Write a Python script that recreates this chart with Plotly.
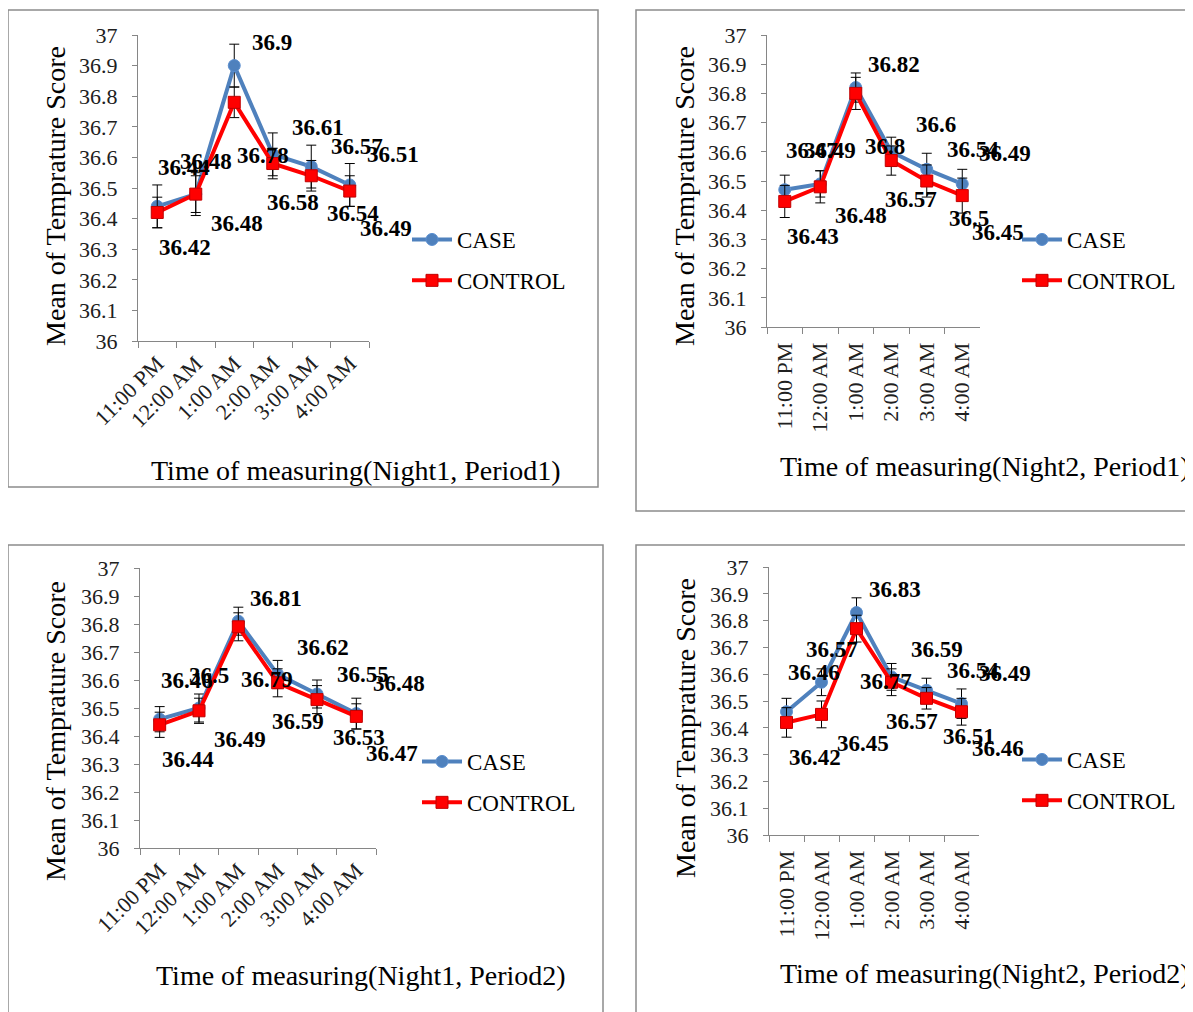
import plotly.graph_objects as go

# ---------------- data ----------------
times = ["11:00 PM", "12:00 AM", "1:00 AM", "2:00 AM", "3:00 AM", "4:00 AM"]
series_names = ["CASE", "CONTROL"]
x_titles = [
    "Time of measuring(Night1, Period1)",
    "Time of measuring(Night2, Period1)",
    "Time of measuring(Night1, Period2)",
    "Time of measuring(Night2, Period2)",
]
y_title = "Mean of Temprature Score"

case_n1p1 = [36.44, 36.48, 36.9, 36.61, 36.57, 36.51]
control_n1p1 = [36.42, 36.48, 36.78, 36.58, 36.54, 36.49]
case_err_n1p1 = [0.07, 0.07, 0.07, 0.07, 0.07, 0.07]
control_err_n1p1 = [0.05, 0.06, 0.05, 0.05, 0.05, 0.05]

case_n2p1 = [36.47, 36.49, 36.82, 36.6, 36.54, 36.49]
control_n2p1 = [36.43, 36.48, 36.8, 36.57, 36.5, 36.45]
case_err_n2p1 = [0.05, 0.045, 0.05, 0.05, 0.055, 0.05]
control_err_n2p1 = [0.055, 0.055, 0.055, 0.05, 0.055, 0.06]

case_n1p2 = [36.46, 36.5, 36.81, 36.62, 36.55, 36.48]
control_n1p2 = [36.44, 36.49, 36.79, 36.59, 36.53, 36.47]
case_err_n1p2 = [0.045, 0.05, 0.05, 0.05, 0.05, 0.055]
control_err_n1p2 = [0.045, 0.045, 0.05, 0.05, 0.05, 0.045]

case_n2p2 = [36.46, 36.57, 36.83, 36.59, 36.54, 36.49]
control_n2p2 = [36.42, 36.45, 36.77, 36.57, 36.51, 36.46]
case_err_n2p2 = [0.05, 0.05, 0.055, 0.05, 0.045, 0.055]
control_err_n2p2 = [0.055, 0.05, 0.05, 0.05, 0.04, 0.05]

# ---------------- layout constants (pixels, page coordinates) ----------------
W, H = 1193, 1012
PAGE_OFF = 8          # default body margin of the html page
FONT = "Liberation Serif"
BLUE = "#4F81BD"
RED = "#FF0000"
GRAY = "#868686"

# plot area: x0, x1, ytop, ybottom
areas = [(138, 369, 35, 341), (767, 980, 35, 327),
         (140, 376, 568, 848), (769, 979, 567, 835)]
# panel border boxes: x0, y0, x1, y1
boxes = [(8, 10, 598, 487), (636, 10, 1210, 511),
         (8, 545, 603, 1030), (636, 545, 1210, 1030)]
# y-title centre (x, y), x-title centre (x, y)
ytitle_pos = [(55, 196), (684, 196), (55, 731), (685, 728)]
xtitle_pos = [(356, 470), (985, 467), (361, 975), (985, 973)]
# legend top-left position (x, y) px
legend_pos = [(407, 218), (1017, 218), (417, 740), (1017, 738)]
tick_angles = [-45, -90, -45, -90]
x_standoff = [0, 6, 0, 6]
# data-label offsets in px (right, down)
case_off = [(27, -39), (10, -33), (38, -23), (45, -27), (46, -20), (43, -30)]
control_off = [(28, 35), (41, 29), (29, 53), (20, 39), (42, 38), (36, 37)]

panels = [
    (case_n1p1, control_n1p1, case_err_n1p1, control_err_n1p1),
    (case_n2p1, control_n2p1, case_err_n2p1, control_err_n2p1),
    (case_n1p2, control_n1p2, case_err_n1p2, control_err_n1p2),
    (case_n2p2, control_n2p2, case_err_n2p2, control_err_n2p2),
]


def fx(p):
    return (p - PAGE_OFF) / W


def fy(p):
    return 1 - (p - PAGE_OFF) / H


fig = go.Figure()
layout = dict(
    width=W, height=H,
    margin=dict(l=0, r=0, t=0, b=0, pad=0, autoexpand=False),
    paper_bgcolor="white", plot_bgcolor="white",
    font=dict(family=FONT, color="black", size=23),
    annotations=[], shapes=[],
)

for i, (case, control, case_err, control_err) in enumerate(panels):
    n = i + 1
    sx = "" if n == 1 else str(n)
    xa, ya = "x" + sx, "y" + sx
    leg = "legend" + sx
    x0, x1, yt, yb = areas[i]

    fig.add_trace(go.Scatter(
        x=times, y=case, name=series_names[0], mode="lines+markers",
        xaxis=xa, yaxis=ya, legend=leg, legendgroup="a",
        line=dict(color=BLUE, width=4),
        marker=dict(symbol="circle", size=12, color=BLUE,
                    line=dict(color="#5B8FD0", width=1)),
        error_y=dict(type="data", array=case_err, visible=True,
                     color="black", thickness=1, width=5),
        cliponaxis=False, hoverinfo="x+y",
    ))
    fig.add_trace(go.Scatter(
        x=times, y=control, name=series_names[1], mode="lines+markers",
        xaxis=xa, yaxis=ya, legend=leg, legendgroup="b",
        line=dict(color=RED, width=4),
        marker=dict(symbol="square", size=12, color=RED,
                    line=dict(color="#C00000", width=1)),
        error_y=dict(type="data", array=control_err, visible=True,
                     color="black", thickness=1, width=5),
        cliponaxis=False, hoverinfo="x+y",
    ))

    layout["xaxis" + sx] = dict(
        domain=[fx(x0), fx(x1)], anchor=ya, type="category",
        range=[-0.5, 5.5], showline=True, linecolor=GRAY, linewidth=1,
        ticks="outside", tickson="boundaries", ticklen=6, tickcolor=GRAY,
        tickangle=tick_angles[i], showgrid=False, zeroline=False,
        automargin=False, ticklabelstandoff=x_standoff[i],
        tickfont=dict(family=FONT, size=22, color="#202020"),
    )
    layout["yaxis" + sx] = dict(
        domain=[fy(yb), fy(yt)], anchor=xa, range=[36, 37], dtick=0.1,
        tick0=36, showline=True, linecolor=GRAY, linewidth=1,
        ticks="outside", ticklen=5, tickcolor=GRAY, showgrid=False,
        zeroline=False, ticklabelstandoff=10, automargin=False,
        tickfont=dict(family=FONT, size=22, color="#202020"),
    )
    lx, ly = legend_pos[i]
    layout[leg] = dict(
        x=fx(lx), y=fy(ly), xanchor="left", yanchor="top",
        bgcolor="rgba(0,0,0,0)", font=dict(family=FONT, size=23),
        traceorder="grouped", tracegroupgap=8, itemwidth=40,
    )

    # data labels
    for vals, offs in ((case, case_off), (control, control_off)):
        for k, v in enumerate(vals):
            dx, dy = offs[k]
            layout["annotations"].append(dict(
                x=times[k], y=v, xref=xa, yref=ya, text=f"{v:g}",
                showarrow=False, xshift=dx, yshift=-dy,
                font=dict(family=FONT, size=23, color="black", weight="bold"),
            ))

    # axis titles
    tx, ty = xtitle_pos[i]
    layout["annotations"].append(dict(
        x=fx(tx), y=fy(ty), xref="paper", yref="paper", text=x_titles[i],
        showarrow=False, xanchor="center", yanchor="middle",
        font=dict(family=FONT, size=28, color="black"),
    ))
    tx, ty = ytitle_pos[i]
    layout["annotations"].append(dict(
        x=fx(tx), y=fy(ty), xref="paper", yref="paper", text=y_title,
        showarrow=False, textangle=-90, xanchor="center", yanchor="middle",
        font=dict(family=FONT, size=28, color="black"),
    ))

    bx0, by0, bx1, by1 = boxes[i]
    layout["shapes"].append(dict(
        type="rect", xref="paper", yref="paper",
        x0=fx(bx0), x1=fx(bx1), y0=fy(by1), y1=fy(by0),
        line=dict(color="#8C8C8C", width=1.5), fillcolor="rgba(0,0,0,0)",
        layer="below",
    ))

fig.update_layout(**layout)
fig.write_html("out.html")
